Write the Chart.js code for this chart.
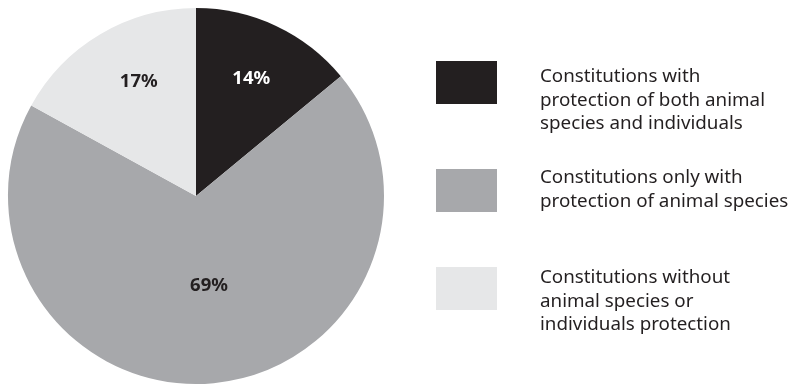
<!DOCTYPE html>
<html>
<head>
<meta charset="utf-8">
<script src="https://cdn.jsdelivr.net/npm/chart.js@4"></script>
<style>
  html, body { margin: 0; padding: 0; background: #fff; }
  #wrap { width: 792px; height: 385px; position: relative; }
</style>
</head>
<body>
<div id="wrap"><canvas id="c"></canvas></div>
<script>
const categories = [
  ['Constitutions with', 'protection of both animal', 'species and individuals'],
  ['Constitutions only with', 'protection of animal species'],
  ['Constitutions without', 'animal species or', 'individuals protection']
];
const shares = [14, 69, 17];
const sliceColors = ['#231f20', '#a7a8ab', '#e6e7e8'];
const labelColors = ['#ffffff', '#231f20', '#231f20'];

const FONT = '"Noto Sans", "Open Sans", sans-serif';

// percent labels inside the slices
const sliceLabels = {
  id: 'sliceLabels',
  afterDatasetsDraw(chart) {
    const ctx = chart.ctx;
    const meta = chart.getDatasetMeta(0);
    const radial = [0.69, 0.48, 0.68];
    const shift = [0, -0.05, 0.07];
    ctx.save();
    ctx.font = 'bold 18.5px ' + FONT;
    ctx.textAlign = 'center';
    ctx.textBaseline = 'middle';
    meta.data.forEach((arc, i) => {
      const p = arc.getProps(['x', 'y', 'startAngle', 'endAngle', 'outerRadius'], true);
      const mid = (p.startAngle + p.endAngle) / 2 + shift[i];
      const r = p.outerRadius * radial[i];
      ctx.fillStyle = labelColors[i];
      ctx.fillText(shares[i] + '%', p.x + Math.cos(mid) * r, p.y + Math.sin(mid) * r);
    });
    ctx.restore();
  }
};

// legend on the right
const sideLegend = {
  id: 'sideLegend',
  afterDraw(chart) {
    const ctx = chart.ctx;
    const boxTops = [61, 169, 267];
    const textTops = [77, 178, 278];
    ctx.save();
    categories.forEach((lines, i) => {
      ctx.fillStyle = sliceColors[i];
      ctx.fillRect(436, boxTops[i], 61, 43);
      ctx.fillStyle = '#231f20';
      ctx.font = '18.8px ' + FONT;
      ctx.textAlign = 'left';
      ctx.textBaseline = 'middle';
      lines.forEach((t, j) => ctx.fillText(t, 540, textTops[i] + j * 23.5));
    });
    ctx.restore();
  }
};

new Chart(document.getElementById('c'), {
  type: 'pie',
  data: {
    labels: categories.map(l => l.join(' ')),
    datasets: [{
      data: shares,
      backgroundColor: sliceColors,
      borderWidth: 0
    }]
  },
  options: {
    responsive: true,
    maintainAspectRatio: false,
    animation: false,
    layout: { padding: { left: 8, top: 8, right: 408, bottom: 1 } },
    plugins: {
      legend: { display: false },
      tooltip: { enabled: false }
    }
  },
  plugins: [sliceLabels, sideLegend]
});
</script>
</body>
</html>
